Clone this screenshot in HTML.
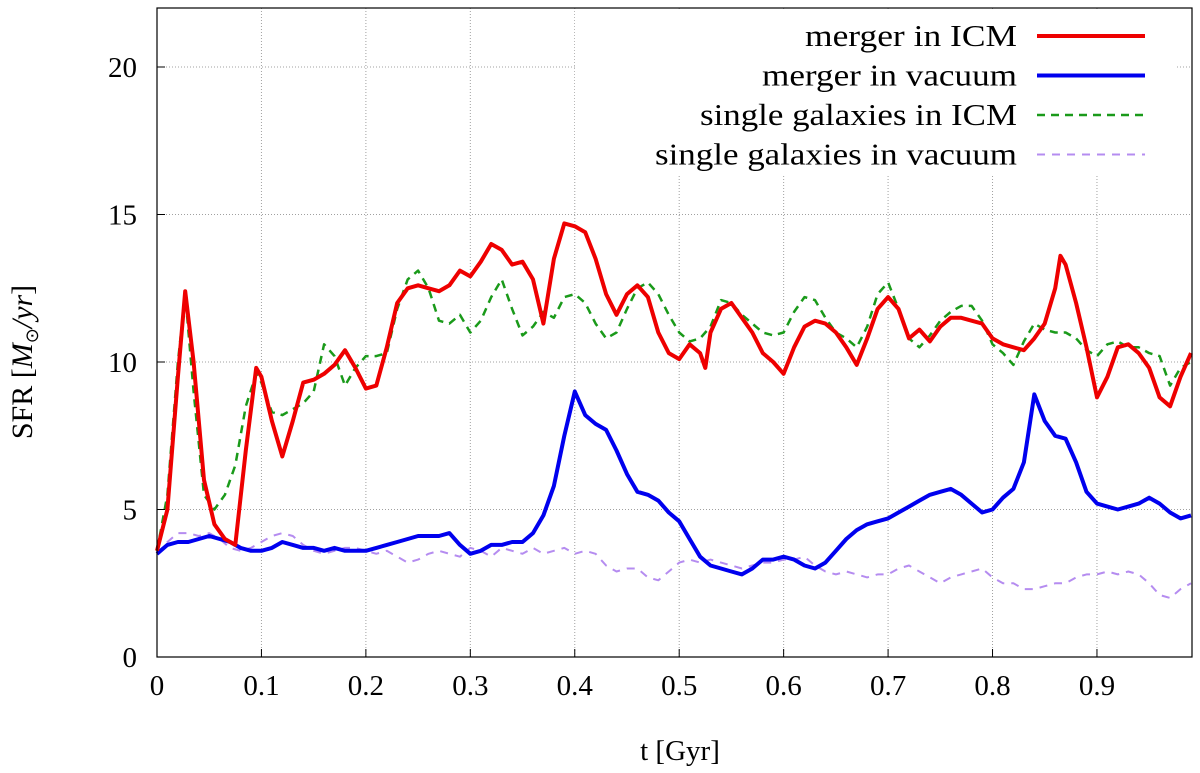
<!DOCTYPE html>
<html><head><meta charset="utf-8">
<style>
html,body{margin:0;padding:0;background:#fff;}
svg{display:block;font-family:"Liberation Serif",serif;}
</style></head>
<body>
<svg id="chart" width="1200" height="773">
<g id="grid"></g>
<g id="series"></g>
<rect x="575" y="10" width="600" height="165" fill="#fff"/>
<g id="axes"></g>
<g id="legend"></g>
<text x="680" y="760" font-size="29" text-anchor="middle">t [Gyr]</text>
<text transform="translate(32,362) rotate(-90)" font-size="30" text-anchor="middle">SFR [<tspan font-style="italic">M</tspan><tspan font-size="18" dy="6">⊙</tspan><tspan dy="-6" font-style="italic">/yr</tspan>]</text>
</svg>
<script>
const xTicks=[0,0.1,0.2,0.3,0.4,0.5,0.6,0.7,0.8,0.9];
const xTickLabels=["0","0.1","0.2","0.3","0.4","0.5","0.6","0.7","0.8","0.9"];
const yTicks=[0,5,10,15,20];
const yTickLabels=["0","5","10","15","20"];
const tRed=[0,0.01,0.02,0.027,0.035,0.045,0.055,0.065,0.075,0.085,0.095,0.1,0.11,0.12,0.13,0.14,0.15,0.16,0.17,0.18,0.19,0.2,0.21,0.22,0.23,0.24,0.25,0.26,0.27,0.28,0.29,0.3,0.31,0.32,0.33,0.34,0.35,0.36,0.37,0.38,0.39,0.4,0.41,0.42,0.43,0.44,0.45,0.46,0.47,0.48,0.49,0.5,0.51,0.52,0.525,0.53,0.54,0.55,0.56,0.57,0.58,0.59,0.6,0.61,0.62,0.63,0.64,0.65,0.66,0.67,0.68,0.69,0.7,0.71,0.72,0.73,0.74,0.75,0.76,0.77,0.78,0.79,0.8,0.81,0.82,0.83,0.84,0.85,0.86,0.865,0.87,0.88,0.89,0.9,0.91,0.92,0.93,0.94,0.95,0.96,0.97,0.98,0.99];
const mergerICM=[3.6,5,9.5,12.4,10,6,4.5,4,3.8,7,9.8,9.5,8,6.8,8,9.3,9.4,9.6,9.9,10.4,9.8,9.1,9.2,10.5,12,12.5,12.6,12.5,12.4,12.6,13.1,12.9,13.4,14,13.8,13.3,13.4,12.8,11.3,13.5,14.7,14.6,14.4,13.5,12.3,11.6,12.3,12.6,12.2,11,10.3,10.1,10.6,10.3,9.8,11,11.8,12,11.5,11,10.3,10,9.6,10.5,11.2,11.4,11.3,11,10.5,9.9,10.8,11.8,12.2,11.8,10.8,11.1,10.7,11.2,11.5,11.5,11.4,11.3,10.8,10.6,10.5,10.4,10.8,11.3,12.5,13.6,13.3,12,10.5,8.8,9.5,10.5,10.6,10.3,9.8,8.8,8.5,9.5,10.3];
const tGreen=[0,0.01,0.02,0.027,0.035,0.045,0.055,0.065,0.075,0.085,0.095,0.1,0.11,0.12,0.13,0.14,0.15,0.16,0.17,0.18,0.19,0.2,0.21,0.22,0.23,0.24,0.25,0.26,0.27,0.28,0.29,0.3,0.31,0.32,0.33,0.34,0.35,0.36,0.37,0.38,0.39,0.4,0.41,0.42,0.43,0.44,0.45,0.46,0.47,0.48,0.49,0.5,0.51,0.52,0.53,0.54,0.55,0.56,0.57,0.58,0.59,0.6,0.61,0.62,0.63,0.64,0.65,0.66,0.67,0.68,0.69,0.7,0.71,0.72,0.73,0.74,0.75,0.76,0.77,0.78,0.79,0.8,0.81,0.82,0.83,0.84,0.85,0.86,0.87,0.88,0.89,0.9,0.91,0.92,0.93,0.94,0.95,0.96,0.97,0.98,0.99];
const singleICM=[3.6,5.5,10,12.3,9,5.5,5,5.5,6.5,8.5,9.6,9.3,8.3,8.2,8.4,8.6,9,10.6,10.2,9.2,9.8,10.2,10.2,10.3,11.8,12.8,13.1,12.5,11.4,11.3,11.6,11,11.4,12.2,12.8,11.8,10.9,11.2,11.7,11.5,12.2,12.3,12,11.3,10.8,11,11.8,12.5,12.7,12.3,11.6,11,10.7,10.8,11.2,12.1,12,11.6,11.3,11,10.9,11,11.7,12.2,12.1,11.5,11,10.8,10.5,11.2,12.3,12.7,11.8,10.8,10.5,10.9,11.4,11.7,11.9,11.9,11.4,10.6,10.3,9.9,10.7,11.3,11.1,11,11,10.8,10.4,10.2,10.6,10.7,10.5,10.5,10.3,10.2,9.2,9.8,10];
const tLow=[0,0.01,0.02,0.03,0.04,0.05,0.06,0.07,0.08,0.09,0.1,0.11,0.12,0.13,0.14,0.15,0.16,0.17,0.18,0.19,0.2,0.21,0.22,0.23,0.24,0.25,0.26,0.27,0.28,0.29,0.3,0.31,0.32,0.33,0.34,0.35,0.36,0.37,0.38,0.39,0.4,0.41,0.42,0.43,0.44,0.45,0.46,0.47,0.48,0.49,0.5,0.51,0.52,0.53,0.54,0.55,0.56,0.57,0.58,0.59,0.6,0.61,0.62,0.63,0.64,0.65,0.66,0.67,0.68,0.69,0.7,0.71,0.72,0.73,0.74,0.75,0.76,0.77,0.78,0.79,0.8,0.81,0.82,0.83,0.84,0.85,0.86,0.87,0.88,0.89,0.9,0.91,0.92,0.93,0.94,0.95,0.96,0.97,0.98,0.99];
const mergerVac=[3.5,3.8,3.9,3.9,4,4.1,4,3.9,3.7,3.6,3.6,3.7,3.9,3.8,3.7,3.7,3.6,3.7,3.6,3.6,3.6,3.7,3.8,3.9,4,4.1,4.1,4.1,4.2,3.8,3.5,3.6,3.8,3.8,3.9,3.9,4.2,4.8,5.8,7.5,9,8.2,7.9,7.7,7,6.2,5.6,5.5,5.3,4.9,4.6,4,3.4,3.1,3,2.9,2.8,3,3.3,3.3,3.4,3.3,3.1,3,3.2,3.6,4,4.3,4.5,4.6,4.7,4.9,5.1,5.3,5.5,5.6,5.7,5.5,5.2,4.9,5,5.4,5.7,6.6,8.9,8,7.5,7.4,6.6,5.6,5.2,5.1,5,5.1,5.2,5.4,5.2,4.9,4.7,4.8];
const singleVac=[3.5,3.9,4.2,4.2,4.1,4.2,4,3.7,3.6,3.7,3.9,4.1,4.2,4.1,3.8,3.6,3.5,3.6,3.7,3.7,3.6,3.5,3.6,3.4,3.2,3.3,3.5,3.6,3.5,3.4,3.7,3.6,3.4,3.7,3.6,3.5,3.7,3.5,3.6,3.7,3.5,3.6,3.5,3.1,2.9,3,3,2.7,2.6,2.9,3.2,3.3,3.2,3.3,3.2,3.1,3,3.1,3.2,3.2,3.3,3.3,3.4,3.1,2.9,2.8,2.9,2.8,2.7,2.8,2.8,3,3.1,2.9,2.7,2.5,2.7,2.8,2.9,3,2.7,2.5,2.5,2.3,2.3,2.4,2.5,2.5,2.7,2.8,2.8,2.9,2.8,2.9,2.8,2.5,2.1,2,2.3,2.5];

const X0=157,X1=1192,Y0=657,Y1=8,XMAX=0.991,YMAX=22;
const xs=t=>X0+(X1-X0)*t/XMAX;
const ys=v=>Y0-(Y0-Y1)*v/YMAX;
const NS="http://www.w3.org/2000/svg";
function mk(tag,attrs,parent){const e=document.createElementNS(NS,tag);for(const k in attrs)e.setAttribute(k,attrs[k]);parent.appendChild(e);return e;}
const grid=document.getElementById('grid'),axes=document.getElementById('axes'),ser=document.getElementById('series'),leg=document.getElementById('legend');
xTicks.forEach((t,i)=>{
  if(i>0){const g=mk('line',{x1:xs(t),x2:xs(t),y1:Y0,y2:Y1,stroke:'#a0a0a0','stroke-width':1,'stroke-dasharray':'1,2'},grid);
  
  }
  const tk=mk('line',{x1:xs(t),x2:xs(t),y1:Y0,y2:Y0-8,stroke:'#000'},axes);
  
  
  const lb=mk('text',{x:xs(t),y:Y0+38,'font-size':29,'text-anchor':'middle'},axes);lb.textContent=xTickLabels[i];
  
  
});
yTicks.forEach((v,i)=>{
  if(i>0){const g=mk('line',{x1:X0,x2:X1,y1:ys(v),y2:ys(v),stroke:'#a0a0a0','stroke-width':1,'stroke-dasharray':'1,2'},grid);
  
  }
  const tk=mk('line',{x1:X0,x2:X0+8,y1:ys(v),y2:ys(v),stroke:'#000'},axes);
  
  
  const lb=mk('text',{x:X0-20,y:ys(v)+10,'font-size':29,'text-anchor':'end'},axes);lb.textContent=yTickLabels[i];
  
  
});
const fr=mk('rect',{x:X0,y:Y1,width:X1-X0,height:Y0-Y1,fill:'none',stroke:'#000','stroke-width':1.2},axes);


function line(ts,vs,color,w,dash,name){
  const d=ts.map((t,i)=>(i?'L':'M')+xs(t).toFixed(1)+','+ys(vs[i]).toFixed(1)).join('');
  const p=mk('path',{d:d,fill:'none',stroke:color,'stroke-width':w,'stroke-linejoin':'round'},ser);
  if(dash)p.setAttribute('stroke-dasharray',dash);
  
  
}
line(tLow,singleVac,'#b58cf0',2,'8,7','single-vacuum-line');
line(tLow,mergerVac,'#0000ee',4,null,'merger-vacuum-line');
line(tGreen,singleICM,'#1a9a1a',2.5,'8,6','single-icm-line');
line(tRed,mergerICM,'#ee0000',4,null,'merger-icm-line');
const items=[["merger in ICM",'#ee0000',4,null,212],["merger in vacuum",'#0000ee',4,null,255],["single galaxies in ICM",'#1a9a1a',2.5,'8,6',317],["single galaxies in vacuum",'#b58cf0',2,'8,7',362]];
items.forEach((it,i)=>{
  const y=36+i*39.5;
  const t=mk('text',{x:1017,y:y+10,'font-size':31,'text-anchor':'end',textLength:it[4],lengthAdjust:'spacingAndGlyphs'},leg);t.textContent=it[0];
  
  
  const l=mk('line',{x1:1037,x2:1145,y1:y,y2:y,stroke:it[1],'stroke-width':it[2]},leg);
  if(it[3])l.setAttribute('stroke-dasharray',it[3]);
  
  
});
</script>
</body></html>
